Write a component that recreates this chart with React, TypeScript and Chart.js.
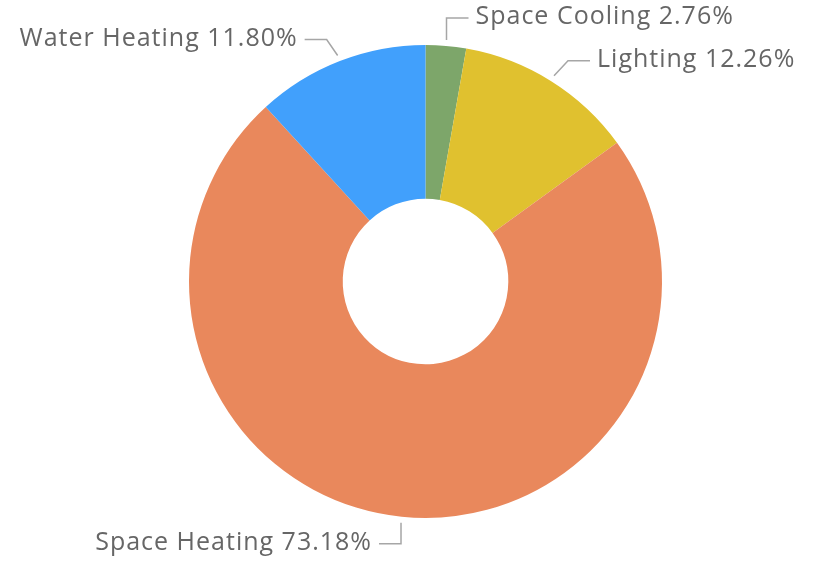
import React, { useEffect, useRef } from "react";
import { Chart, registerables } from "chart.js";

Chart.register(...registerables);

const categories = ["Space Cooling", "Lighting", "Space Heating", "Water Heating"];
const shares = [2.76, 12.26, 73.18, 11.8];
const colors = ["#7da66a", "#e0c12f", "#e9885c", "#41a0fc"];

// leader layout per slice: elbow offset from anchor, horizontal direction
const leaderLayout = [
  { ex: 0, ey: -22, dir: 1 },
  { ex: 14, ey: -15, dir: 1 },
  { ex: 0, ey: 21, dir: -1 },
  { ex: -11, ey: -16, dir: -1 },
];

const labelPlugin = {
  id: "leaderLabels",
  afterDraw(chart: any) {
    const ctx = chart.ctx;
    const meta = chart.getDatasetMeta(0);
    ctx.save();
    ctx.font = "25px 'Open Sans', sans-serif";
    try {
      (ctx as any).letterSpacing = "1px";
    } catch (e) {}
    meta.data.forEach((arc: any, i: number) => {
      const { x, y, startAngle, endAngle, outerRadius } = arc.getProps(
        ["x", "y", "startAngle", "endAngle", "outerRadius"],
        true
      );
      const mid = (startAngle + endAngle) / 2;
      const r = outerRadius + 6;
      const ax = x + Math.cos(mid) * r;
      const ay = y + Math.sin(mid) * r;
      const L = leaderLayout[i];
      const bx = ax + L.ex;
      const by = ay + L.ey;
      const cx = bx + L.dir * 22;
      ctx.strokeStyle = "#a6a6a6";
      ctx.lineWidth = 1.5;
      ctx.beginPath();
      ctx.moveTo(ax, ay);
      ctx.lineTo(bx, by);
      ctx.lineTo(cx, by);
      ctx.stroke();
      ctx.fillStyle = "#666666";
      ctx.textBaseline = "middle";
      ctx.textAlign = L.dir > 0 ? "left" : "right";
      const text = `${categories[i]} ${shares[i].toFixed(2)}%`;
      ctx.fillText(text, cx + L.dir * 7, by - 1);
    });
    ctx.restore();
  },
};

export default function App() {
  const ref = useRef<HTMLCanvasElement>(null);
  useEffect(() => {
    document.body.style.margin = "0";
    const chart = new Chart(ref.current!, {
      type: "doughnut",
      data: {
        labels: categories,
        datasets: [
          {
            data: shares,
            backgroundColor: colors,
            borderWidth: 0,
          },
        ],
      },
      options: {
        animation: false,
        responsive: false,
        cutout: "35%",
        layout: { padding: { left: 100, right: 69, top: 45, bottom: 52 } },
        plugins: {
          legend: { display: false },
          tooltip: { enabled: false },
        },
      },
      plugins: [labelPlugin],
    });
    return () => chart.destroy();
  }, []);
  return (
    <div style={{ width: 820, height: 570, background: "#fff" }}>
      <canvas ref={ref} width={820} height={570} />
    </div>
  );
}
